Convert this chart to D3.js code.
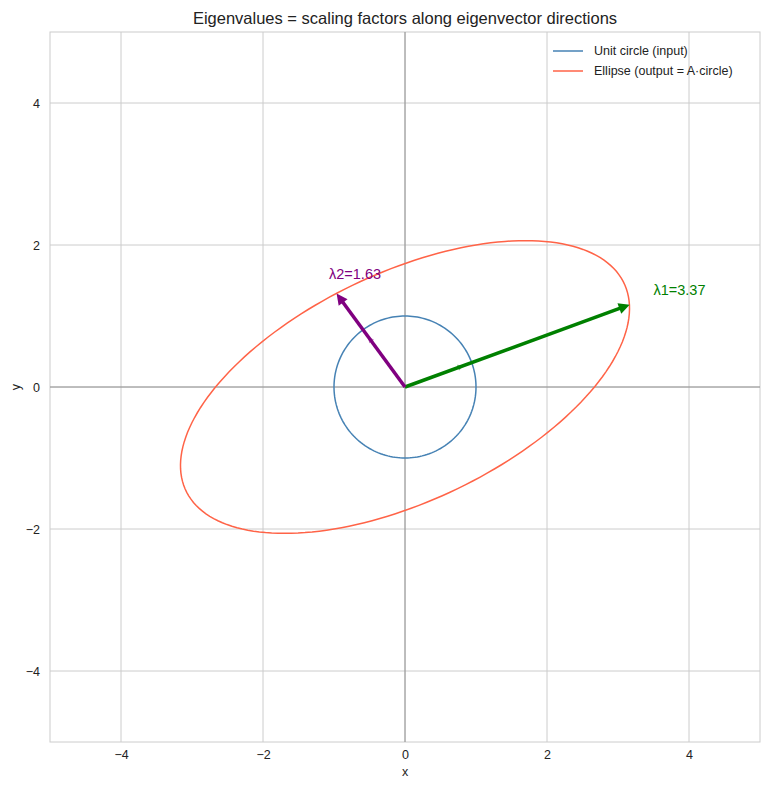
<!DOCTYPE html><html><head><meta charset="utf-8"><script src="https://cdn.jsdelivr.net/npm/d3@7"></script>
<style>body{margin:0;background:#fff}text{font-family:Arial,"Liberation Sans",sans-serif}</style></head><body><svg id="c" width="769" height="790"></svg>
<script>
const A=[[3,1],[0.5,2]];
const xTicks=[-4,-2,0,2,4], yTicks=[-4,-2,0,2,4];
const eigVals=[3.37,1.63];
const eigVecs=[[0.939,0.344],[-0.591,0.807]];
const eigColors=["green","purple"];
const eigLabels=["λ1=3.37","λ2=1.63"];
const labelPos=[[3.5,1.3],[-1.07,1.52]];
const angles=d3.range(0,361,2).map(d=>d*Math.PI/180);
const svg=d3.select("#c");
const L=50,R=760,T=32,B=742;
const x=d3.scaleLinear([-5,5],[L,R]), y=d3.scaleLinear([-5,5],[B,T]);
const g=svg.append("g");
xTicks.forEach(t=>g.append("line").attr("x1",x(t)).attr("x2",x(t)).attr("y1",T).attr("y2",B).attr("stroke","#ccc"));
yTicks.forEach(t=>g.append("line").attr("y1",y(t)).attr("y2",y(t)).attr("x1",L).attr("x2",R).attr("stroke","#ccc"));
g.append("rect").attr("x",L).attr("y",T).attr("width",R-L).attr("height",B-T).attr("fill","none").attr("stroke","#ccc");
g.append("line").attr("x1",x(0)).attr("x2",x(0)).attr("y1",T).attr("y2",B).attr("stroke","#808080").attr("stroke-width",0.8);
g.append("line").attr("y1",y(0)).attr("y2",y(0)).attr("x1",L).attr("x2",R).attr("stroke","#808080").attr("stroke-width",0.8);
const fmt=t=>t<0?"−"+(-t):""+t;
const xa=svg.append("g").attr("transform",`translate(0,${B})`).call(d3.axisBottom(x).tickValues(xTicks).tickSize(0).tickPadding(8).tickFormat(fmt));
const ya=svg.append("g").attr("transform",`translate(${L},0)`).call(d3.axisLeft(y).tickValues(yTicks).tickSize(0).tickPadding(10).tickFormat(fmt));
[xa,ya].forEach(a=>{a.select(".domain").remove();a.selectAll("text").attr("font-size",12.5).attr("fill","#222");});
svg.append("text").attr("x",405).attr("y",776).attr("text-anchor","middle").attr("font-size",12.5).attr("fill","#222").text("x");
svg.append("text").attr("transform","translate(20,387) rotate(-90)").attr("text-anchor","middle").attr("font-size",12.5).attr("fill","#222").text("y");
svg.append("text").attr("x",405).attr("y",24).attr("text-anchor","middle").attr("font-size",16.5).attr("fill","#222").text("Eigenvalues = scaling factors along eigenvector directions");
const line=d3.line().x(d=>x(d[0])).y(d=>y(d[1]));
const circ=angles.map(a=>[Math.cos(a),Math.sin(a)]);
const ell=circ.map(p=>[A[0][0]*p[0]+A[0][1]*p[1],A[1][0]*p[0]+A[1][1]*p[1]]);
svg.append("path").attr("d",line(circ)).attr("fill","none").attr("stroke","#4682b4").attr("stroke-width",1.5);
svg.append("path").attr("d",line(ell)).attr("fill","none").attr("stroke","#ff6347").attr("stroke-width",1.5);
function arrow(x0,y0,x1,y1,col,w,hl,hw,op){
  const dx=x1-x0,dy=y1-y0,len=Math.hypot(dx,dy),ux=dx/len,uy=dy/len;
  const bx=x1-ux*hl,by=y1-uy*hl;
  svg.append("line").attr("x1",x0).attr("y1",y0).attr("x2",bx+ux*1).attr("y2",by+uy*1).attr("stroke",col).attr("stroke-width",w).attr("opacity",op);
  svg.append("path").attr("d",`M${x1},${y1}L${bx-uy*hw},${by+ux*hw}L${bx+uy*hw},${by-ux*hw}Z`).attr("fill",col).attr("opacity",op);
}
eigVecs.forEach((v,i)=>{
  arrow(x(0),y(0),x(v[0]*0.88),y(v[1]*0.88),eigColors[i],1.5,6,3,0.5);
  arrow(x(0),y(0),x(v[0]*eigVals[i]),y(v[1]*eigVals[i]),eigColors[i],3.5,11,5.5,1);
  svg.append("text").attr("x",x(labelPos[i][0])).attr("y",y(labelPos[i][1])).attr("font-size",14.5).attr("fill",eigColors[i]).text(eigLabels[i]);
});
const leg=[["Unit circle (input)","#4682b4"],["Ellipse (output = A·circle)","#ff6347"]];
leg.forEach((d,i)=>{
  const yy=51+i*20;
  svg.append("line").attr("x1",553).attr("x2",583).attr("y1",yy).attr("y2",yy).attr("stroke",d[1]).attr("stroke-width",1.5);
  svg.append("text").attr("x",594).attr("y",yy+4).attr("font-size",12.5).attr("fill","#222").text(d[0]);
});
</script></body></html>
